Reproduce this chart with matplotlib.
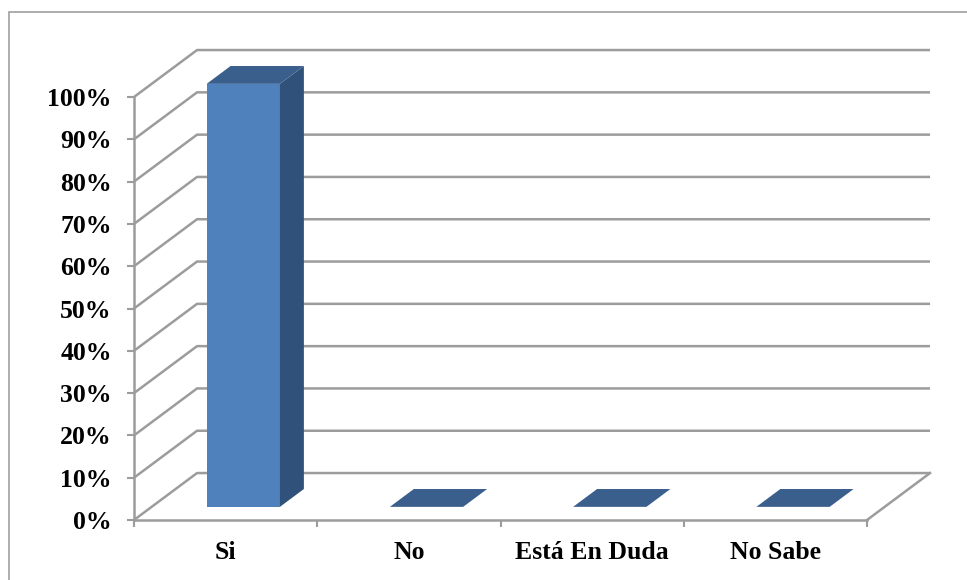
import matplotlib
matplotlib.use("Agg")
import matplotlib.pyplot as plt
from matplotlib.patches import Polygon, Rectangle

categories = ["Si", "No", "Está En Duda", "No Sabe"]
values = [100, 0, 0, 0]
y_ticks = [0, 10, 20, 30, 40, 50, 60, 70, 80, 90, 100]
y_tick_labels = ["%d%%" % t for t in y_ticks]

# depth offset of the fake 3d box, in data units
DX = 0.344
DY = 11.1
bar_w = 0.40
d0, d1 = 0.28, 0.66

grid_col = "#9c9c9c"
front_col = "#4f81bd"
top_col = "#3b5f8d"
side_col = "#30517a"


def proj(x, v, d):
    return (x + d * DX, v + d * DY)


fig = plt.figure(figsize=(9.67, 5.8), dpi=100)
ax = fig.add_axes([134 / 967, 60 / 580, 733 / 967, 423 / 580])
ax.set_xlim(0, len(categories))
ax.set_ylim(0, 100)
ax.patch.set_visible(False)

# outer chart border (only left and top show in the picture)
fig.patches.append(Rectangle((9 / 967, -0.1), 1.2, 1.1 - 12 / 580, transform=fig.transFigure,
                             fill=False, edgecolor="#a0a0a0", lw=1.2))

# back wall gridlines + side wall diagonals
n = len(categories)
for t in y_ticks:
    xs, ys = zip(proj(0, t, 0), proj(0, t, 1), proj(n, t, 1))
    ax.plot(xs, ys, color=grid_col, lw=1.8, clip_on=False, zorder=1, solid_capstyle="butt")
# floor right edge
xs, ys = zip(proj(n, 0, 0), proj(n, 0, 1))
ax.plot(xs, ys, color=grid_col, lw=1.8, clip_on=False, zorder=1)

# bars
for i, v in enumerate(values):
    x0 = i + 0.5 - bar_w / 2
    x1 = i + 0.5 + bar_w / 2
    if v > 0:
        front = [proj(x0, 0, d0), proj(x1, 0, d0), proj(x1, v, d0), proj(x0, v, d0)]
        side = [proj(x1, 0, d0), proj(x1, 0, d1), proj(x1, v, d1), proj(x1, v, d0)]
        ax.add_patch(Polygon(front, closed=True, facecolor=front_col, edgecolor="none",
                             clip_on=False, zorder=3))
        ax.add_patch(Polygon(side, closed=True, facecolor=side_col, edgecolor="none",
                             clip_on=False, zorder=3))
    top = [proj(x0, v, d0), proj(x1, v, d0), proj(x1, v, d1), proj(x0, v, d1)]
    ax.add_patch(Polygon(top, closed=True, facecolor=top_col, edgecolor="none",
                         clip_on=False, zorder=3))

# axes, ticks, labels
for s in ["top", "right"]:
    ax.spines[s].set_visible(False)
for s in ["left", "bottom"]:
    ax.spines[s].set_color(grid_col)
    ax.spines[s].set_linewidth(1.8)
    ax.spines[s].set_zorder(2)

font = dict(family="Liberation Serif", weight="bold", size=18.5)
ax.set_yticks(y_ticks)
ax.set_yticklabels(y_tick_labels, fontdict=font)
ax.tick_params(axis="y", length=5, width=1.5, color=grid_col, pad=11)

ax.set_xticks(range(n + 1))
ax.set_xticklabels([])
ax.set_xticks([i + 0.5 for i in range(n)], minor=True)
ax.set_xticklabels(categories, minor=True, fontdict=font)
ax.tick_params(axis="x", which="major", length=5, width=1.5, color=grid_col, direction="out")
ax.tick_params(axis="x", which="minor", length=0, pad=15)

fig.savefig("out.png", dpi=100)
